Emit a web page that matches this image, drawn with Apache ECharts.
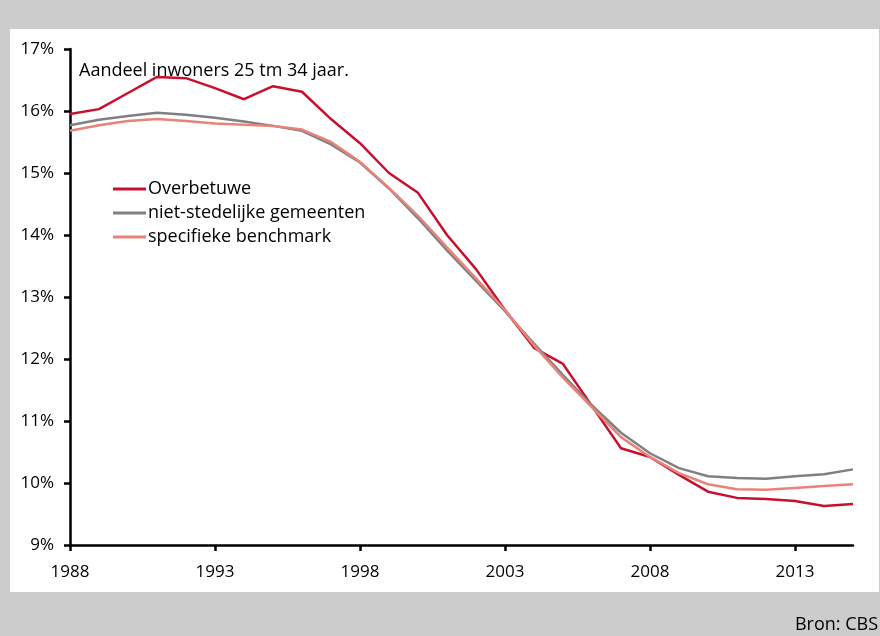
<!DOCTYPE html>
<html>
<head>
<meta charset="utf-8">
<script src="https://cdn.jsdelivr.net/npm/echarts@6/dist/echarts.min.js"></script>
<style>
  html, body { margin: 0; padding: 0; background: #cccccc; }
  #chart { width: 880px; height: 636px; }
</style>
</head>
<body>
<div id="chart"></div>
<script>
// jaren 1988 t/m 2015
const years = []
for (let y = 1988; y <= 2015; y++) years.push(String(y))

// aandeel inwoners 25 tm 34 jaar (%)
const overbetuwe = [15.95, 16.03, 16.29, 16.55, 16.53, 16.37, 16.19, 16.40, 16.31, 15.87,
  15.48, 15.00, 14.68, 14.00, 13.45, 12.79, 12.18, 11.92, 11.24, 10.56,
  10.42, 10.13, 9.86, 9.76, 9.74, 9.71, 9.63, 9.66]
const nietStedelijk = [15.77, 15.86, 15.92, 15.97, 15.94, 15.89, 15.83, 15.76, 15.68, 15.46,
  15.17, 14.75, 14.27, 13.75, 13.26, 12.77, 12.25, 11.74, 11.25, 10.81,
  10.48, 10.24, 10.11, 10.08, 10.07, 10.11, 10.14, 10.22]
const benchmark = [15.68, 15.77, 15.84, 15.87, 15.84, 15.80, 15.78, 15.76, 15.70, 15.50,
  15.18, 14.76, 14.31, 13.80, 13.30, 12.79, 12.22, 11.70, 11.22, 10.74,
  10.42, 10.16, 9.98, 9.90, 9.89, 9.92, 9.95, 9.98]

const seriesNames = ['Overbetuwe', 'niet-stedelijke gemeenten', 'specifieke benchmark']
const seriesColors = ['#c8102e', '#808080', '#e8837a']

const fontFamily = '"Open Sans", "Noto Sans", sans-serif'

const chart = echarts.init(document.getElementById('chart'))

const makeLine = (name, data, color) => ({
  name: name,
  type: 'line',
  data: data,
  symbol: 'none',
  smooth: false,
  lineStyle: { color: color, width: 2.5 },
  itemStyle: { color: color },
  animation: false,
})

const option = {
  backgroundColor: '#cccccc',
  animation: false,
  graphic: [
    {
      type: 'rect',
      z: -10,
      shape: { x: 10, y: 29, width: 869, height: 563 },
      style: { fill: '#ffffff' },
    },
    {
      type: 'text',
      right: 2,
      top: 616,
      style: { text: 'Bron: CBS', fill: '#000', font: '18px ' + fontFamily },
    },
  ],
  title: {
    text: 'Aandeel inwoners 25 tm 34 jaar.',
    left: 74,
    top: 57,
    textStyle: { fontFamily: fontFamily, fontSize: 18, fontWeight: 'normal', color: '#000' },
  },
  legend: {
    orient: 'vertical',
    left: 108,
    top: 172,
    icon: 'rect',
    itemWidth: 33,
    itemHeight: 3,
    itemGap: 0,
    data: seriesNames,
    textStyle: { fontFamily: fontFamily, fontSize: 18, color: '#000', lineHeight: 24, padding: [0, 0, 0, -3] },
  },
  grid: { left: 70, top: 49, right: 27, bottom: 91 },
  xAxis: {
    type: 'category',
    data: years,
    boundaryGap: false,
    axisLine: { lineStyle: { color: '#000', width: 2.5 } },
    axisTick: { interval: 4, length: 6, lineStyle: { color: '#000', width: 2.5 } },
    axisLabel: { interval: 4, margin: 19, color: '#000', fontFamily: fontFamily, fontSize: 17 },
    splitLine: { show: false },
  },
  yAxis: {
    type: 'value',
    min: 9,
    max: 17,
    interval: 1,
    axisLine: { show: true, lineStyle: { color: '#000', width: 2.5 } },
    axisTick: { show: true, length: 6, lineStyle: { color: '#000', width: 2.5 } },
    axisLabel: { formatter: '{value}%', margin: 16, color: '#000', fontFamily: fontFamily, fontSize: 17 },
    splitLine: { show: false },
  },
  series: [
    makeLine(seriesNames[0], overbetuwe, seriesColors[0]),
    makeLine(seriesNames[1], nietStedelijk, seriesColors[1]),
    makeLine(seriesNames[2], benchmark, seriesColors[2]),
  ],
}

chart.setOption(option)
</script>
</body>
</html>
